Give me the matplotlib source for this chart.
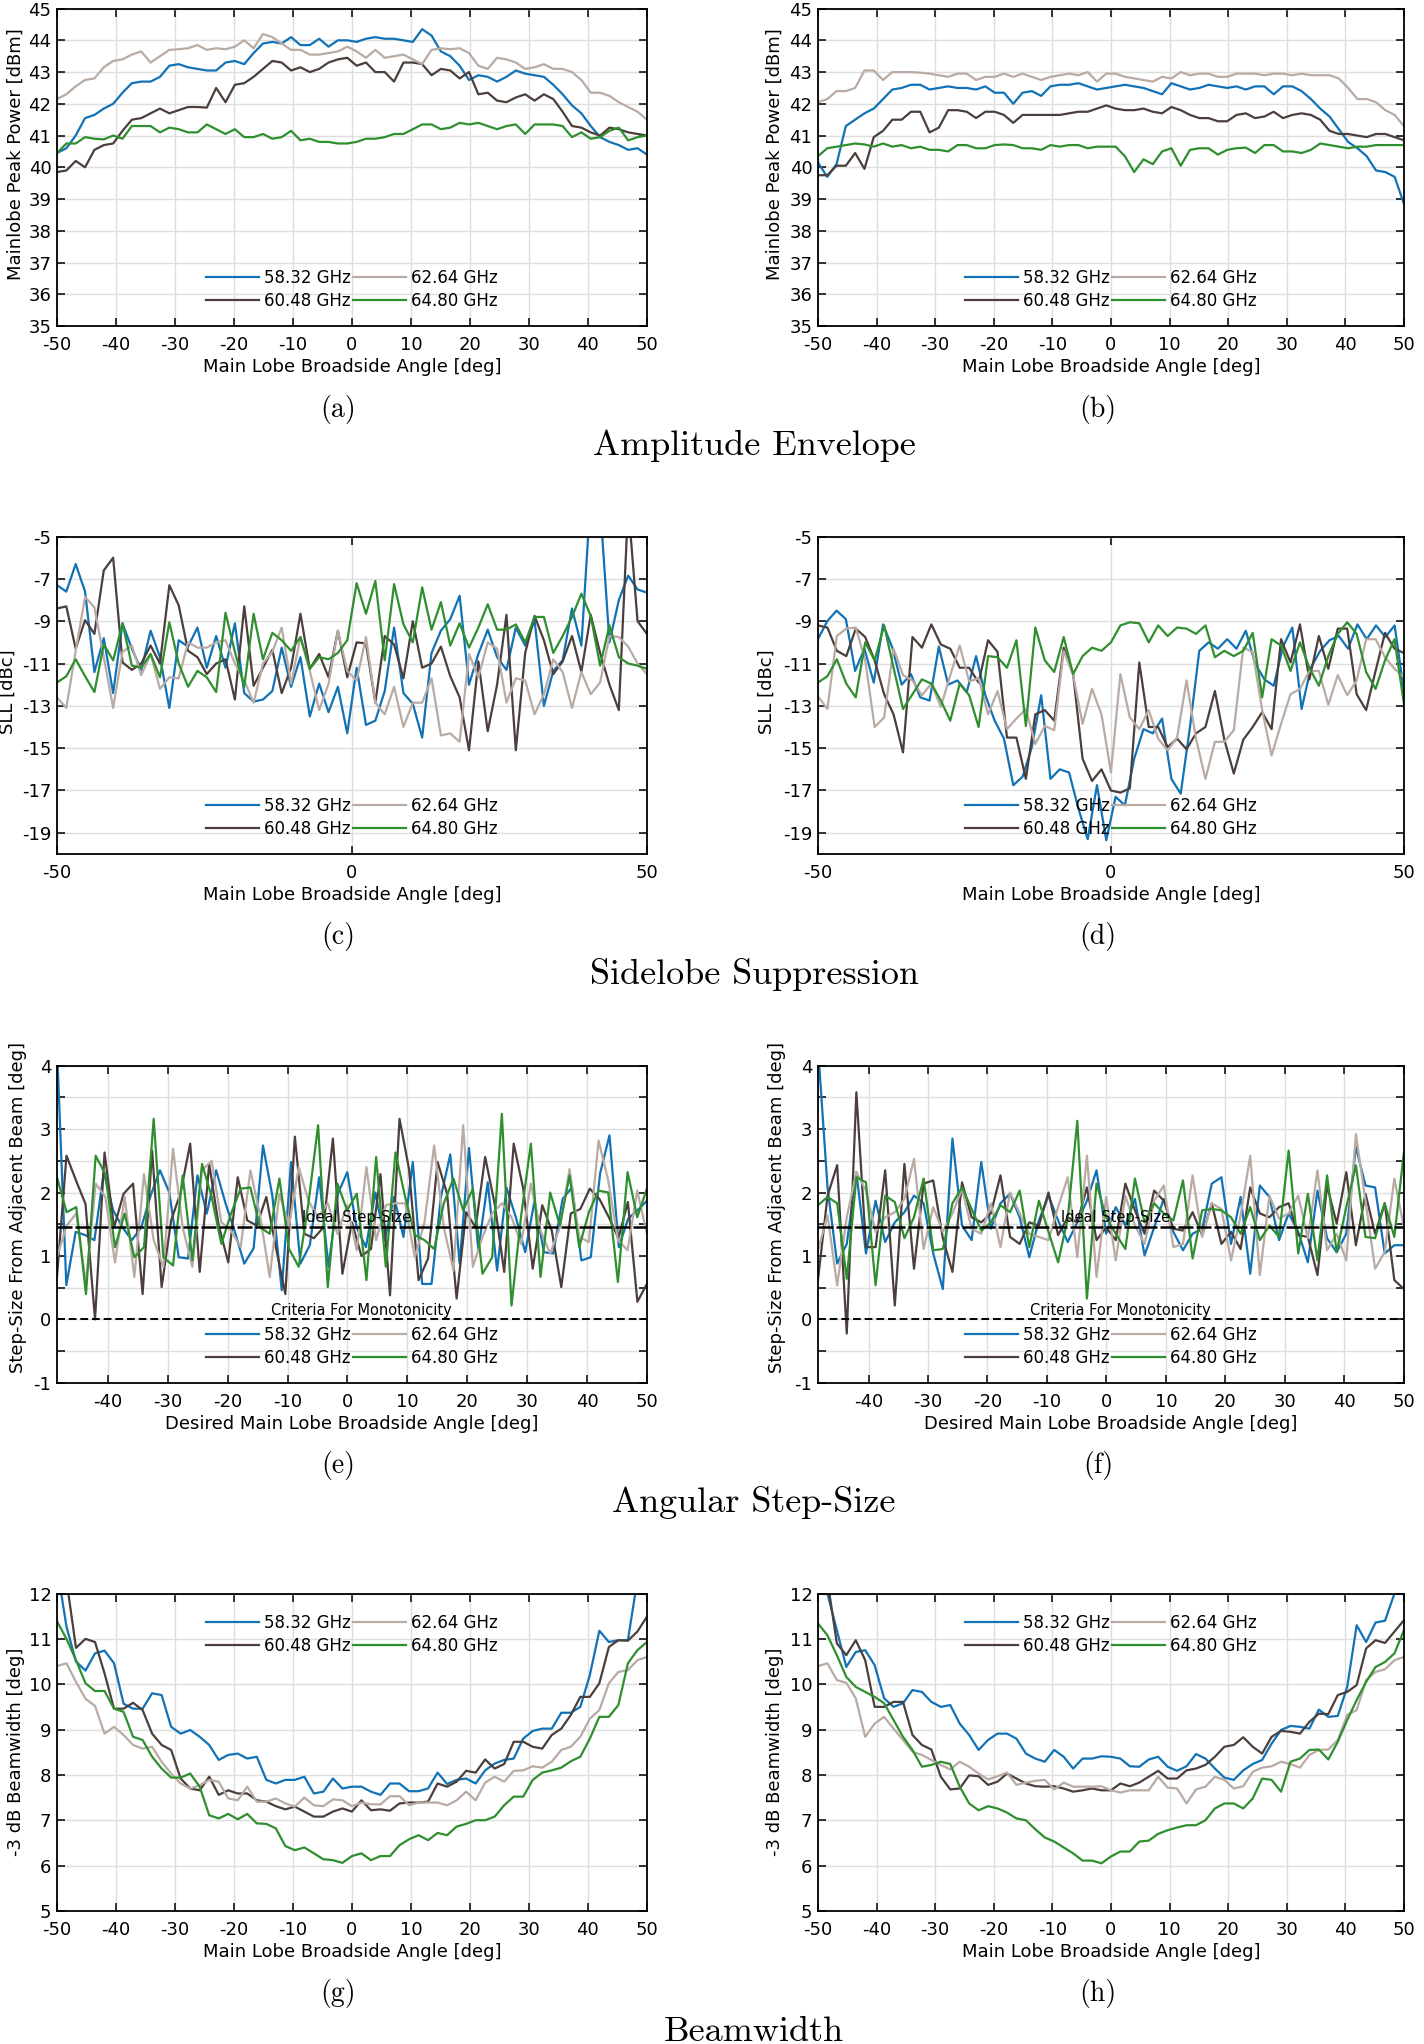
import matplotlib
matplotlib.use("Agg")
import matplotlib.pyplot as plt
import numpy as np

plt.rcParams['font.family'] = ['DejaVu Sans']
plt.rcParams['axes.unicode_minus'] = False

freqs = ["58.32 GHz", "60.48 GHz", "62.64 GHz", "64.80 GHz"]
colors = ["#1172b6", "#4b3e3b", "#b9aba4", "#2f8f2f"]

# ---- amplitude envelope (dBm) ----
a_blue = [40.45, 40.6, 41.0, 41.55, 41.65, 41.85, 42.0, 42.35, 42.65, 42.7, 42.7, 42.85, 43.2, 43.25, 43.15, 43.1,
          43.05, 43.05, 43.3, 43.35, 43.25, 43.6, 43.9, 43.95, 43.9, 44.1, 43.85, 43.85, 44.05, 43.8, 44.0, 44.0,
          43.95, 44.05, 44.1, 44.05, 44.05, 44.0, 43.95, 44.35, 44.15, 43.65, 43.5, 43.2, 42.75, 42.9, 42.85, 42.7,
          42.85, 43.05, 42.95, 42.9, 42.85, 42.6, 42.3, 41.95, 41.7, 41.3, 40.95, 40.8, 40.7, 40.55, 40.6, 40.4]
a_dark = [39.85, 39.9, 40.2, 40.0, 40.55, 40.7, 40.75, 41.15, 41.5, 41.55, 41.7, 41.85, 41.7, 41.8, 41.9, 41.9,
          41.88, 42.5, 42.05, 42.6, 42.65, 42.85, 43.1, 43.35, 43.3, 43.05, 43.15, 43.0, 43.1, 43.3, 43.4, 43.45,
          43.2, 43.3, 43.0, 43.0, 42.7, 43.3, 43.3, 43.25, 42.9, 43.1, 43.05, 42.8, 43.0, 42.3, 42.35, 42.1,
          42.05, 42.2, 42.3, 42.1, 42.3, 42.15, 41.75, 41.3, 41.25, 41.1, 41.0, 41.25, 41.2, 41.1, 41.05, 41.0]
a_light = [42.15, 42.3, 42.55, 42.75, 42.8, 43.15, 43.35, 43.4, 43.55, 43.65, 43.3, 43.5, 43.7, 43.72, 43.75, 43.85,
           43.7, 43.75, 43.72, 43.8, 44.0, 43.75, 44.2, 44.1, 43.9, 43.7, 43.7, 43.55, 43.55, 43.6, 43.65, 43.8,
           43.65, 43.45, 43.7, 43.45, 43.5, 43.55, 43.4, 43.25, 43.7, 43.75, 43.72, 43.75, 43.6, 43.2, 43.1, 43.45,
           43.4, 43.3, 43.1, 43.15, 43.25, 43.1, 43.1, 43.0, 42.75, 42.35, 42.35, 42.25, 42.05, 41.9, 41.75, 41.5]
a_green = [40.45, 40.75, 40.75, 40.95, 40.9, 40.88, 41.0, 40.9, 41.3, 41.3, 41.3, 41.1, 41.25, 41.2, 41.1, 41.1,
           41.35, 41.2, 41.05, 41.2, 40.95, 40.95, 41.05, 40.9, 40.95, 41.15, 40.85, 40.9, 40.8, 40.8, 40.75, 40.75,
           40.8, 40.9, 40.9, 40.95, 41.05, 41.05, 41.2, 41.35, 41.35, 41.2, 41.25, 41.4, 41.35, 41.4, 41.3, 41.2,
           41.3, 41.35, 41.05, 41.35, 41.35, 41.35, 41.3, 40.95, 41.1, 40.9, 40.95, 41.15, 41.25, 40.85, 40.95, 41.0]

b_blue = [40.15, 39.7, 40.1, 41.3, 41.5, 41.7, 41.85, 42.15, 42.45, 42.5, 42.6, 42.6, 42.45, 42.5, 42.55, 42.5,
          42.5, 42.45, 42.55, 42.35, 42.35, 42.0, 42.35, 42.4, 42.25, 42.55, 42.6, 42.6, 42.65, 42.55, 42.45, 42.5,
          42.55, 42.6, 42.55, 42.5, 42.4, 42.3, 42.65, 42.55, 42.45, 42.5, 42.6, 42.55, 42.5, 42.55, 42.45, 42.55,
          42.55, 42.3, 42.55, 42.55, 42.4, 42.15, 41.85, 41.6, 41.2, 40.8, 40.6, 40.35, 39.9, 39.85, 39.7, 38.85]
b_dark = [39.75, 39.75, 40.05, 40.05, 40.45, 39.95, 40.95, 41.15, 41.5, 41.5, 41.75, 41.75, 41.1, 41.25, 41.8, 41.8,
          41.75, 41.55, 41.75, 41.75, 41.65, 41.4, 41.65, 41.65, 41.65, 41.65, 41.65, 41.7, 41.75, 41.75, 41.85, 41.95,
          41.85, 41.8, 41.8, 41.85, 41.75, 41.7, 41.9, 41.8, 41.65, 41.55, 41.55, 41.45, 41.45, 41.65, 41.7, 41.55,
          41.6, 41.75, 41.55, 41.65, 41.7, 41.65, 41.5, 41.15, 41.05, 41.05, 41.0, 40.95, 41.05, 41.05, 40.95, 40.85]
b_light = [42.05, 42.15, 42.4, 42.4, 42.5, 43.05, 43.05, 42.75, 43.0, 43.0, 43.0, 42.98, 42.95, 42.9, 42.85, 42.95,
           42.95, 42.75, 42.85, 42.85, 42.95, 42.85, 42.95, 42.85, 42.75, 42.85, 42.9, 42.95, 42.9, 43.0, 42.7, 42.95,
           42.95, 42.85, 42.8, 42.75, 42.7, 42.85, 42.8, 43.0, 42.9, 42.95, 42.95, 42.85, 42.85, 42.95, 42.95, 42.95,
           42.9, 42.95, 42.95, 42.9, 42.95, 42.9, 42.9, 42.9, 42.8, 42.5, 42.15, 42.15, 42.05, 41.8, 41.65, 41.3]
b_green = [40.35, 40.6, 40.65, 40.7, 40.75, 40.72, 40.65, 40.75, 40.65, 40.7, 40.6, 40.65, 40.55, 40.55, 40.5, 40.7,
           40.7, 40.6, 40.6, 40.7, 40.72, 40.7, 40.6, 40.6, 40.55, 40.7, 40.65, 40.7, 40.7, 40.6, 40.65, 40.65,
           40.65, 40.35, 39.85, 40.25, 40.1, 40.5, 40.6, 40.05, 40.55, 40.6, 40.6, 40.4, 40.55, 40.6, 40.62, 40.45,
           40.7, 40.7, 40.5, 40.5, 40.45, 40.55, 40.75, 40.7, 40.65, 40.6, 40.65, 40.65, 40.7, 40.7, 40.7, 40.7]

# ---- sidelobe level (dBc) ----
c_blue = [-7.3, -7.6, -6.3, -7.6, -11.4, -9.8, -12.4, -9.1, -10.3, -11.3, -9.45, -10.7, -13.1, -9.9, -10.2, -9.3,
          -11.2, -9.7, -11.2, -9.1, -12.4, -12.8, -12.7, -12.3, -10.25, -12.1, -10.7, -13.5, -11.95, -13.3, -12.1, -14.3,
          -11.2, -13.9, -13.7, -12.3, -9.3, -12.4, -12.9, -14.5, -10.5, -9.45, -8.9, -7.8, -12.0, -10.55, -9.4, -10.7,
          -11.3, -9.3, -10.15, -8.95, -13.0, -11.35, -10.85, -8.4, -10.15, -3.0, -3.5, -10.0, -8.0, -6.85, -7.5, -7.65]
c_dark = [-8.4, -8.3, -10.3, -8.95, -9.6, -6.6, -6.0, -10.95, -11.3, -11.0, -10.15, -11.0, -7.3, -8.25, -10.4, -10.7,
          -11.5, -11.0, -10.8, -12.7, -8.3, -12.05, -11.2, -10.35, -12.4, -11.2, -8.65, -11.25, -10.55, -11.65, -9.45, -11.65,
          -10.0, -10.05, -12.85, -9.7, -10.1, -11.7, -9.0, -11.2, -11.0, -10.2, -11.6, -12.6, -15.1, -10.9, -14.2, -12.0,
          -8.7, -15.1, -10.5, -8.75, -9.9, -11.5, -10.9, -9.7, -11.4, -8.7, -10.5, -12.0, -13.2, -3.5, -9.0, -9.6]
c_light = [-12.6, -13.1, -10.4, -7.85, -8.35, -10.7, -13.1, -10.45, -10.15, -11.55, -10.55, -12.2, -11.65, -11.7, -10.0, -10.25,
           -10.25, -10.0, -9.9, -11.0, -11.8, -12.85, -11.0, -10.45, -9.3, -11.95, -9.75, -11.35, -13.2, -11.95, -9.45, -11.35,
           -11.8, -9.75, -12.85, -13.4, -12.1, -14.0, -12.85, -12.85, -11.7, -14.4, -14.3, -14.7, -10.55, -11.65, -10.0, -10.3,
           -12.85, -11.7, -11.8, -13.4, -12.45, -10.8, -11.4, -13.1, -11.4, -12.45, -11.9, -9.7, -9.75, -10.2, -11.0, -11.5]
c_green = [-11.9, -11.6, -10.8, -11.6, -12.35, -10.1, -10.85, -9.1, -11.1, -11.2, -10.55, -11.65, -9.05, -11.0, -12.1, -11.35,
           -11.65, -12.35, -8.6, -10.45, -12.1, -8.65, -10.8, -9.55, -9.9, -10.4, -9.75, -11.25, -10.7, -10.8, -10.5, -9.9,
           -7.2, -8.65, -7.1, -10.85, -7.25, -9.15, -10.0, -7.4, -9.4, -8.1, -10.15, -9.1, -10.25, -9.3, -8.2, -9.4,
           -9.4, -9.15, -10.0, -8.8, -8.8, -10.5, -9.7, -8.8, -7.7, -8.75, -11.1, -9.2, -10.7, -11.0, -11.1, -11.25]

d_blue = [-9.85, -9.0, -8.5, -8.9, -11.35, -10.3, -11.9, -9.15, -10.25, -12.0, -11.5, -12.6, -12.75, -10.2, -12.0, -11.8,
          -12.35, -10.65, -12.5, -13.7, -14.55, -16.75, -16.35, -14.95, -12.5, -16.45, -16.0, -16.15, -17.85, -19.3, -16.75, -19.35,
          -17.3, -17.7, -15.5, -14.1, -14.3, -13.6, -16.45, -17.15, -14.0, -10.4, -10.0, -10.3, -9.85, -10.3, -9.45, -11.0,
          -11.75, -12.05, -10.2, -9.3, -13.15, -11.2, -10.4, -9.9, -9.7, -10.3, -9.15, -9.85, -9.2, -9.75, -9.2, -12.3]
d_dark = [-9.2, -9.3, -10.4, -10.65, -9.35, -9.75, -10.85, -12.45, -13.4, -15.2, -9.75, -10.25, -9.15, -10.1, -10.3, -11.2,
          -11.2, -11.9, -9.9, -10.45, -14.5, -14.5, -16.45, -13.4, -13.2, -13.7, -10.25, -11.5, -15.5, -16.55, -16.0, -17.0,
          -17.1, -16.9, -10.95, -14.0, -14.0, -14.95, -14.55, -15.05, -14.3, -14.0, -12.3, -14.6, -16.2, -14.6, -14.0, -13.3,
          -14.1, -9.85, -10.95, -9.15, -11.75, -9.7, -11.25, -9.35, -9.35, -12.45, -13.2, -11.35, -9.55, -10.3, -10.5]
d_light = [-12.55, -13.15, -9.7, -9.35, -9.3, -10.85, -14.0, -13.55, -10.3, -11.55, -11.8, -12.5, -11.95, -13.05, -11.55, -10.15,
           -11.85, -11.7, -13.4, -12.3, -14.1, -13.6, -13.15, -14.8, -13.95, -14.15, -10.4, -11.55, -13.85, -12.2, -13.4, -16.15,
           -11.5, -13.55, -14.1, -13.2, -14.55, -15.1, -14.5, -11.8, -14.55, -16.45, -14.7, -14.7, -14.15, -10.25, -10.45, -13.2,
           -15.35, -13.85, -12.45, -12.2, -11.35, -11.35, -12.95, -11.55, -12.5, -11.8, -9.85, -9.85, -10.7, -11.25, -11.65]
d_green = [-11.9, -11.6, -10.8, -11.95, -12.6, -10.0, -10.85, -9.2, -11.2, -13.15, -12.45, -11.75, -11.95, -12.75, -13.7, -11.95,
           -12.5, -14.0, -10.65, -10.7, -11.2, -9.9, -13.95, -9.3, -10.85, -11.4, -9.75, -11.5, -10.65, -10.25, -10.4, -10.0,
           -9.2, -9.05, -9.1, -10.0, -9.2, -9.7, -9.3, -9.35, -9.6, -9.2, -10.7, -10.4, -10.65, -10.4, -9.55, -12.6,
           -9.85, -10.15, -11.35, -10.0, -11.2, -12.05, -10.65, -9.6, -9.05, -9.6, -11.4, -12.2, -10.85, -9.85, -12.9]

# ---- angular step size (deg) ----
e_blue = [4.3, 0.54, 1.38, 1.33, 1.25, 2.32, 1.72, 1.45, 1.25, 1.45, 1.95, 2.35, 2.0, 0.98, 0.96, 2.27, 1.67, 2.35,
          1.83, 1.38, 0.88, 1.12, 2.74, 1.95, 0.46, 2.48, 0.88, 1.17, 2.24, 0.83, 1.98, 2.32, 1.45, 1.14, 2.0, 1.25,
          1.93, 1.3, 2.48, 0.56, 0.56, 1.93, 2.6, 0.88, 2.7, 1.09, 2.16, 0.77, 2.08, 1.61, 1.06, 1.87, 1.06, 1.04,
          1.9, 2.08, 0.93, 0.98, 2.3, 2.9, 1.14, 1.59, 1.72, 1.87]
e_dark = [0.67, 2.58, 2.19, 1.82, 0.0, 2.63, 1.45, 1.98, 2.14, 0.4, 2.66, 0.51, 1.56, 2.0, 2.77, 0.75, 2.45, 1.48,
          0.9, 2.24, 1.56, 1.48, 1.93, 1.14, 0.4, 2.88, 1.35, 1.28, 1.45, 2.85, 0.72, 1.53, 1.0, 1.11, 2.29, 0.38,
          3.16, 2.37, 0.62, 0.96, 2.48, 1.98, 0.33, 1.69, 1.45, 2.56, 1.82, 0.75, 2.77, 2.06, 0.8, 1.8, 1.4, 0.51,
          1.67, 1.74, 2.06, 1.9, 1.61, 1.28, 1.85, 0.28, 0.56]
e_light = [0.98, 1.48, 1.67, 0.56, 2.14, 1.93, 0.9, 1.93, 0.67, 2.29, 1.25, 0.83, 2.69, 1.45, 0.83, 2.35, 2.5, 1.53,
           1.4, 1.14, 2.35, 1.64, 0.67, 1.98, 1.48, 2.4, 1.87, 1.61, 1.83, 1.35, 1.8, 1.09, 2.4, 1.25, 1.8, 1.83,
           1.83, 0.98, 1.53, 2.74, 1.45, 0.77, 3.06, 0.83, 1.3, 1.67, 1.83, 1.61, 1.19, 2.14, 1.4, 1.04, 1.45, 2.37,
           1.3, 1.22, 2.82, 2.19, 1.25, 1.09, 2.03, 1.35]
e_green = [2.24, 1.69, 1.77, 0.4, 2.58, 2.29, 1.14, 1.67, 0.98, 1.14, 3.16, 0.98, 0.85, 2.27, 0.93, 2.45, 1.93, 1.19,
           1.67, 2.06, 2.08, 1.45, 1.35, 2.22, 1.11, 0.83, 1.83, 3.06, 0.51, 2.14, 1.72, 1.98, 0.62, 2.56, 0.83, 2.63,
           1.93, 1.33, 1.25, 1.11, 1.83, 2.22, 1.72, 2.06, 0.72, 0.98, 3.24, 0.22, 1.64, 2.77, 0.67, 2.0, 1.48, 2.27,
           1.14, 1.69, 2.03, 2.0, 0.59, 2.32, 1.61, 2.06]

f_blue = [4.3, 2.08, 0.88, 1.19, 2.32, 1.04, 1.87, 1.22, 1.53, 1.69, 1.95, 1.83, 1.04, 0.48, 2.85, 1.48, 1.25, 2.48,
          1.43, 1.83, 1.98, 1.61, 0.98, 1.56, 1.95, 1.56, 1.22, 1.53, 1.87, 2.35, 1.35, 1.77, 1.48, 1.9, 1.01, 1.45,
          1.9, 1.38, 1.09, 1.35, 1.43, 2.14, 2.24, 1.19, 1.93, 0.72, 2.11, 1.93, 1.25, 1.67, 1.38, 0.9, 2.03, 1.28,
          1.06, 1.35, 2.72, 2.11, 2.08, 1.04, 1.17, 1.17]
f_dark = [0.62, 1.95, 2.43, -0.22, 3.58, 1.14, 1.14, 2.35, 0.22, 2.45, 0.8, 2.14, 2.19, 1.28, 0.75, 2.16, 1.61, 1.53,
          1.67, 2.27, 1.3, 1.19, 1.53, 1.48, 2.0, 1.33, 1.61, 1.53, 2.08, 1.25, 1.45, 1.25, 2.14, 1.72, 1.35, 2.03,
          1.87, 1.43, 1.4, 1.69, 1.33, 1.83, 1.19, 1.38, 1.11, 2.08, 1.67, 1.61, 1.77, 1.83, 1.33, 1.3, 0.7, 2.11,
          1.51, 2.32, 1.17, 1.98, 1.35, 1.83, 0.62, 0.48]
f_light = [1.09, 1.64, 0.54, 1.61, 2.32, 2.03, 1.38, 1.61, 1.69, 1.9, 2.53, 1.11, 1.77, 1.38, 1.67, 2.06, 1.43, 1.35,
           1.83, 1.14, 2.0, 1.67, 1.35, 1.3, 1.25, 1.77, 2.24, 0.98, 2.58, 0.67, 1.93, 0.93, 1.95, 1.48, 1.19, 1.87,
           2.11, 1.14, 1.19, 2.27, 1.3, 1.83, 1.74, 0.93, 1.64, 2.58, 0.7, 1.95, 1.59, 1.67, 1.95, 1.28, 2.35, 1.09,
           1.35, 0.93, 2.92, 1.87, 0.8, 1.06, 2.22, 1.45]
f_green = [1.8, 1.93, 1.83, 0.64, 2.24, 2.16, 0.54, 1.95, 1.85, 1.28, 1.61, 2.22, 1.09, 1.11, 1.83, 2.08, 1.74, 1.4,
           1.53, 1.8, 1.69, 2.03, 1.14, 1.87, 1.38, 0.9, 1.59, 3.13, 0.33, 2.14, 1.61, 1.35, 1.11, 2.22, 1.53, 1.83,
           1.67, 1.56, 2.19, 0.96, 1.72, 1.74, 1.72, 1.61, 1.35, 1.77, 1.25, 1.48, 1.3, 2.66, 1.04, 1.98, 0.93, 2.27,
           1.06, 1.77, 2.43, 1.3, 1.28, 1.83, 1.3, 2.63]
ideal_step = 1.45

# ---- -3 dB beamwidth (deg) ----
g_blue = [12.6, 11.27, 10.5, 10.3, 10.68, 10.74, 10.46, 9.57, 9.46, 9.46, 9.8, 9.76, 9.06, 8.91, 8.99, 8.84, 8.66,
          8.33, 8.44, 8.47, 8.36, 8.4, 7.89, 7.81, 7.89, 7.89, 7.96, 7.59, 7.63, 7.92, 7.7, 7.74, 7.74, 7.63, 7.56,
          7.81, 7.81, 7.64, 7.64, 7.7, 8.05, 7.8, 7.89, 7.92, 7.81, 8.1, 8.25, 8.33, 8.36, 8.8, 8.97, 9.02, 9.02,
          9.37, 9.37, 9.5, 10.2, 11.18, 10.93, 10.97, 10.97, 12.3, 13.5]
g_dark = [13.0, 12.3, 10.8, 11.0, 10.93, 10.24, 9.46, 9.46, 9.59, 9.43, 8.91, 8.66, 8.55, 7.92, 7.7, 7.66, 7.96,
          7.56, 7.66, 7.59, 7.59, 7.44, 7.41, 7.31, 7.24, 7.3, 7.19, 7.08, 7.08, 7.19, 7.26, 7.19, 7.44, 7.22, 7.24,
          7.21, 7.37, 7.39, 7.39, 7.41, 7.81, 7.74, 7.85, 8.09, 8.05, 8.34, 8.14, 8.24, 8.73, 8.73, 8.62, 8.58, 8.88,
          9.02, 9.32, 9.72, 9.72, 10.02, 10.82, 10.97, 10.96, 11.16, 11.49]
g_light = [10.4, 10.46, 10.05, 9.68, 9.52, 8.91, 9.06, 8.88, 8.66, 8.58, 8.62, 8.29, 8.03, 7.81, 7.7, 7.77, 7.89,
           7.85, 7.48, 7.44, 7.74, 7.41, 7.41, 7.48, 7.37, 7.3, 7.5, 7.33, 7.31, 7.46, 7.44, 7.31, 7.39, 7.35, 7.35,
           7.53, 7.53, 7.33, 7.39, 7.39, 7.39, 7.33, 7.44, 7.63, 7.44, 7.83, 7.96, 7.85, 8.09, 8.1, 8.19, 8.16, 8.29,
           8.55, 8.62, 8.84, 9.24, 9.43, 10.02, 10.27, 10.31, 10.53, 10.6]
g_green = [11.39, 11.0, 10.53, 10.02, 9.85, 9.85, 9.46, 9.39, 8.84, 8.77, 8.4, 8.14, 7.94, 7.94, 8.03, 7.74, 7.11,
           7.04, 7.14, 7.02, 7.14, 6.93, 6.92, 6.82, 6.43, 6.34, 6.4, 6.27, 6.14, 6.12, 6.06, 6.21, 6.27, 6.12, 6.21,
           6.21, 6.45, 6.58, 6.67, 6.56, 6.72, 6.67, 6.86, 6.92, 7.0, 7.0, 7.08, 7.33, 7.52, 7.52, 7.89, 8.05, 8.1,
           8.16, 8.3, 8.4, 8.8, 9.28, 9.28, 9.54, 10.46, 10.75, 10.93]

h_blue = [12.6, 12.0, 11.19, 10.38, 10.71, 10.75, 10.42, 9.69, 9.5, 9.58, 9.87, 9.83, 9.61, 9.5, 9.54, 9.13, 8.88,
          8.55, 8.77, 8.91, 8.91, 8.8, 8.47, 8.36, 8.29, 8.55, 8.4, 8.14, 8.36, 8.36, 8.41, 8.4, 8.36, 8.19, 8.18,
          8.34, 8.4, 8.18, 8.09, 8.19, 8.46, 8.36, 8.14, 7.94, 7.89, 8.1, 8.24, 8.33, 8.69, 8.99, 9.08, 9.06, 9.02,
          9.44, 9.28, 9.3, 9.94, 11.3, 10.93, 11.36, 11.4, 12.0, 13.5]
h_dark = [13.2, 12.3, 10.9, 10.64, 10.97, 10.53, 9.5, 9.5, 9.61, 9.61, 8.88, 8.66, 8.56, 7.96, 7.68, 7.7, 7.99,
          7.97, 7.78, 7.85, 8.03, 7.92, 7.81, 7.75, 7.74, 7.75, 7.7, 7.63, 7.66, 7.7, 7.66, 7.66, 7.81, 7.75, 7.83,
          7.96, 8.09, 7.92, 7.92, 8.1, 8.14, 8.22, 8.4, 8.62, 8.66, 8.83, 8.62, 8.47, 8.84, 8.97, 8.95, 8.91, 9.17,
          9.35, 9.34, 9.76, 9.83, 9.98, 10.79, 10.97, 10.91, 11.16, 11.41]
h_light = [10.4, 10.46, 10.09, 10.03, 9.69, 8.84, 9.13, 9.28, 9.02, 8.77, 8.51, 8.44, 8.33, 8.22, 8.12, 8.29, 8.18,
           8.03, 7.9, 7.97, 8.05, 7.78, 7.83, 7.87, 7.89, 7.68, 7.83, 7.74, 7.74, 7.74, 7.75, 7.66, 7.61, 7.66, 7.66,
           7.66, 7.96, 7.72, 7.7, 7.37, 7.68, 7.74, 7.96, 7.89, 7.7, 7.75, 8.07, 8.16, 8.19, 8.29, 8.24, 8.16, 8.44,
           8.55, 8.56, 8.77, 9.32, 9.43, 10.09, 10.27, 10.33, 10.53, 10.6]
h_green = [11.34, 11.08, 10.64, 10.16, 9.94, 9.83, 9.72, 9.58, 9.21, 8.84, 8.55, 8.18, 8.22, 8.29, 8.24, 7.74, 7.37,
           7.22, 7.31, 7.26, 7.17, 7.04, 7.0, 6.8, 6.62, 6.53, 6.4, 6.27, 6.11, 6.11, 6.05, 6.2, 6.31, 6.31, 6.53,
           6.55, 6.7, 6.78, 6.84, 6.89, 6.89, 7.0, 7.26, 7.37, 7.37, 7.26, 7.48, 7.92, 7.89, 7.63, 8.29, 8.36, 8.55,
           8.56, 8.34, 8.73, 9.21, 9.65, 10.05, 10.38, 10.49, 10.68, 11.19]

fig = plt.figure(figsize=(14.24, 20.44), dpi=100)

col_x = [0.040, 0.5744]
col_w = [0.4143, 0.4115]
row_y = [0.8405, 0.5822, 0.3234, 0.0651]
row_h = 0.1553


def make_ax(row, col):
    return fig.add_axes([col_x[col], row_y[row], col_w[col], row_h])


def draw(ax, series, x0, x1):
    for vals, c, lab in zip(series, colors, freqs):
        x = np.linspace(x0, x1, len(vals))
        ax.plot(x, vals, color=c, lw=1.6, label=lab)


def style(ax, xlim, ylim, xticks, yticks, xlabel, ylabel, ylab_xy, ytlabels=None, leg_loc="lower center", leg_y=0.015):
    ax.set_xlim(*xlim)
    ax.set_ylim(*ylim)
    ax.set_xticks(xticks)
    ax.set_xticklabels([str(t) for t in xticks])
    ax.set_yticks(yticks)
    if ytlabels is None:
        ytlabels = [str(t) for t in yticks]
    ax.set_yticklabels(ytlabels)
    ax.grid(True, color="#dedede", lw=1.0)
    ax.set_axisbelow(True)
    ax.tick_params(direction="in", top=True, right=True, length=6, width=1.1, labelsize=13)
    ax.tick_params(axis="x", pad=7)
    ax.tick_params(axis="y", pad=4)
    for s in ax.spines.values():
        s.set_linewidth(1.3)
    ax.set_xlabel(xlabel, fontsize=13, labelpad=3)
    ax.set_ylabel(ylabel, fontsize=13)
    ax.yaxis.set_label_coords(*ylab_xy)
    ax.legend(loc=leg_loc, bbox_to_anchor=(0.5, leg_y), ncol=2, frameon=False, fontsize=12,
              handlelength=3.2, handletextpad=0.3, columnspacing=0.1, labelspacing=0.3, borderpad=0.2)


xl_main = "Main Lobe Broadside Angle [deg]"
xl_desired = "Desired Main Lobe Broadside Angle [deg]"
ten = list(range(-50, 51, 10))

# row 1: amplitude envelope
for col, series in enumerate([[a_blue, a_dark, a_light, a_green], [b_blue, b_dark, b_light, b_green]]):
    ax = make_ax(0, col)
    draw(ax, series, -50, 50)
    style(ax, (-50, 50), (35, 45), ten, list(range(35, 46)), xl_main, "Mainlobe Peak Power [dBm]",
          (-0.054 if col == 0 else -0.058, 0.54))

# row 2: sidelobe suppression
for col, series in enumerate([[c_blue, c_dark, c_light, c_green], [d_blue, d_dark, d_light, d_green]]):
    ax = make_ax(1, col)
    draw(ax, series, -50, 50)
    style(ax, (-50, 50), (-20, -5), [-50, 0, 50], list(range(-19, -4, 2)), xl_main, "SLL [dBc]",
          (-0.068 if col == 0 else -0.072, 0.51))

# row 3: angular step size
half = list(np.arange(-1, 4.01, 0.5))
half_lab = [str(int(v)) if float(v).is_integer() else "" for v in half]
for col, series in enumerate([[e_blue, e_dark, e_light, e_green], [f_blue, f_dark, f_light, f_green]]):
    ax = make_ax(2, col)
    draw(ax, series, -48.5, 50)
    ax.axhline(ideal_step, color="black", lw=1.8, ls=(0, (6, 1.2)), zorder=3)
    ax.axhline(0, color="black", lw=1.4, ls=(0, (4, 2)), zorder=3)
    ax.text(1.6, 1.6, "Ideal Step-Size", fontsize=10.5, ha="center", va="center", zorder=4)
    ax.text(2.4, 0.14, "Criteria For Monotonicity", fontsize=10.5, ha="center", va="center", zorder=4)
    style(ax, (-48.5, 50), (-1, 4), list(range(-40, 51, 10)), half, xl_desired,
          "Step-Size From Adjacent Beam [deg]", (-0.051 if col == 0 else -0.055, 0.553), ytlabels=half_lab)

# row 4: beamwidth
for col, series in enumerate([[g_blue, g_dark, g_light, g_green], [h_blue, h_dark, h_light, h_green]]):
    ax = make_ax(3, col)
    draw(ax, series, -50, 50)
    style(ax, (-50, 50), (5, 12), ten, list(range(5, 13)), xl_main, "-3 dB Beamwidth [deg]",
          (-0.054 if col == 0 else -0.058, 0.5), leg_loc="upper center", leg_y=0.972)

# subplot letters and section titles
letters = [("(a)", "(b)"), ("(c)", "(d)"), ("(e)", "(f)"), ("(g)", "(h)")]
letter_y = [0.7999, 0.5420, 0.2829, 0.0245]
titles = ["Amplitude Envelope", "Sidelobe Suppression", "Angular Step-Size", "Beamwidth"]
title_y = [0.7818, 0.5230, 0.2647, 0.0059]
for r in range(4):
    fig.text(0.2374, letter_y[r], letters[r][0], fontsize=20, family="cmr10", ha="center", va="center")
    fig.text(0.7710, letter_y[r], letters[r][1], fontsize=20, family="cmr10", ha="center", va="center")
    fig.text(0.5295, title_y[r], titles[r], fontsize=26, family="cmr10", ha="center", va="center")

fig.savefig("out.png", dpi=100)
